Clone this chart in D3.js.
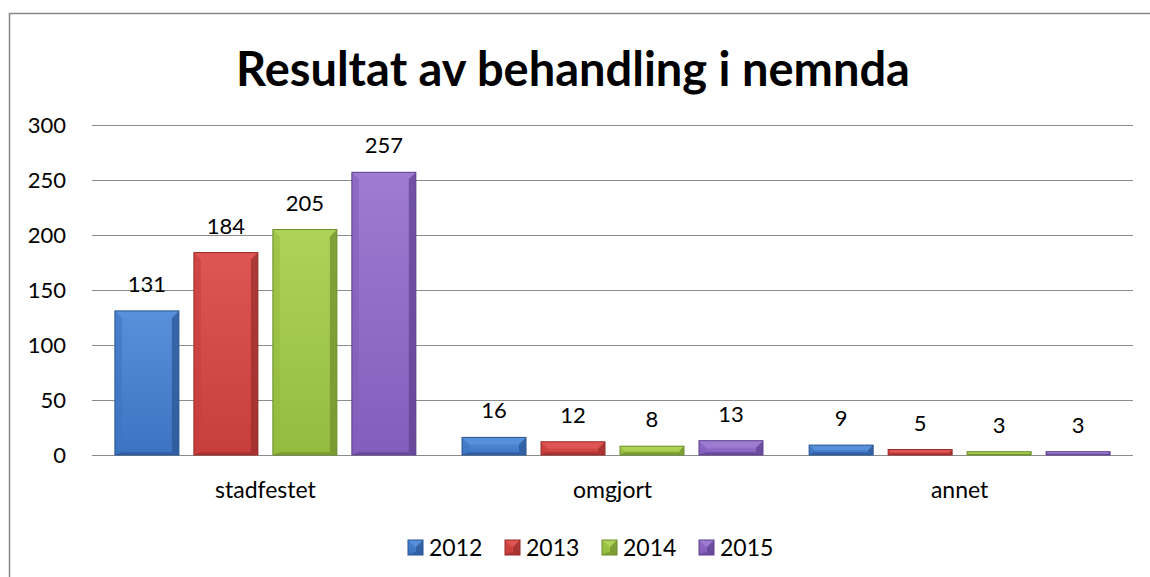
<!DOCTYPE html>
<html>
<head>
<meta charset="utf-8">
<script src="https://cdn.jsdelivr.net/npm/d3@7"></script>
<style>
  body { margin: 0; background: #fff; }
  svg { display: block; font-family: Lato, "Open Sans", sans-serif; }
</style>
</head>
<body>
<svg id="chart" width="1150" height="577"></svg>
<script>
// data
const categories = ['stadfestet', 'omgjort', 'annet'];
const years = ['2012', '2013', '2014', '2015'];
const values2012 = [131, 16, 9];
const values2013 = [184, 12, 5];
const values2014 = [205, 8, 3];
const values2015 = [257, 13, 3];
const yTicks = [0, 50, 100, 150, 200, 250, 300];

const seriesValues = [values2012, values2013, values2014, values2015];
const colors = [
  { light: '#5890da', base: '#3c74c2', dark: '#2a5593' },
  { light: '#de5553', base: '#c83e3c', dark: '#972d2b' },
  { light: '#aed258', base: '#94bc40', dark: '#6d8d2b' },
  { light: '#9f7bd2', base: '#845dbb', dark: '#5d408e' }
];

const svg = d3.select('#chart');
const margin = { left: 92, right: 17, top: 125, bottom: 122 };
const W = 1150, H = 577;

// outer frame (only left/top visible in the picture)
svg.append('rect')
  .attr('x', 9.5).attr('y', 13.5)
  .attr('width', 1160).attr('height', 600)
  .attr('fill', 'none').attr('stroke', '#868686').attr('stroke-width', 1.5);

// title
svg.append('text')
  .attr('x', 573).attr('y', 86)
  .attr('text-anchor', 'middle')
  .attr('font-size', 47).attr('font-weight', 'bold')
  .attr('fill', '#000')
  .text('Resultat av behandling i nemnda');

const x0 = d3.scaleBand()
  .domain(categories)
  .range([margin.left, W - margin.right])
  .paddingInner(0.133).paddingOuter(0.066);

const x1 = d3.scaleBand()
  .domain(years)
  .range([0, x0.bandwidth()])
  .paddingInner(0.19);

const y = d3.scaleLinear()
  .domain([0, 300])
  .range([H - margin.bottom, margin.top]);

// gridlines
svg.append('g')
  .selectAll('line')
  .data(yTicks)
  .join('line')
  .attr('x1', margin.left).attr('x2', W - margin.right)
  .attr('y1', d => Math.round(y(d)) + 0.5).attr('y2', d => Math.round(y(d)) + 0.5)
  .attr('stroke', '#8c8c8c').attr('stroke-width', 1.2);

// y axis labels
const yAxis = d3.axisLeft(y).tickValues(yTicks).tickSize(0).tickPadding(0);
svg.append('g')
  .attr('transform', `translate(66,0)`)
  .call(yAxis)
  .call(g => g.select('.domain').remove())
  .selectAll('text')
  .attr('font-family', 'Lato, sans-serif')
  .attr('font-size', 22)
  .attr('fill', '#000');

// category labels
const xAxis = d3.axisBottom(x0).tickSize(0).tickPadding(0);
svg.append('g')
  .attr('transform', `translate(0,${y(0) + 27})`)
  .call(xAxis)
  .call(g => g.select('.domain').remove())
  .selectAll('text')
  .attr('font-family', 'Lato, sans-serif')
  .attr('font-size', 23)
  .attr('fill', '#000');

// gradients
const defs = svg.append('defs');
colors.forEach((c, i) => {
  const g = defs.append('linearGradient')
    .attr('id', 'grad' + i).attr('x1', 0).attr('y1', 0).attr('x2', 0).attr('y2', 1);
  g.append('stop').attr('offset', '0%').attr('stop-color', c.light);
  g.append('stop').attr('offset', '100%').attr('stop-color', c.base);
});

// draws a bevelled box
function bevelBox(g, bx, by, bw, bh, c, i) {
  const b = Math.min(7, bh / 2, bw / 2);
  const bb = Math.min(3, bh / 3);
  g.append('rect')
    .attr('x', bx).attr('y', by).attr('width', bw).attr('height', bh)
    .attr('fill', `url(#grad${i})`);
  // top facet
  g.append('path')
    .attr('d', `M${bx},${by}L${bx + bw},${by}L${bx + bw - b},${by + b}L${bx + b},${by + b}Z`)
    .attr('fill', c.light).attr('opacity', 0.9);
  // left facet
  g.append('path')
    .attr('d', `M${bx},${by}L${bx + b},${by + b}L${bx + b},${by + bh - bb}L${bx},${by + bh}Z`)
    .attr('fill', c.base).attr('opacity', 0.6);
  // right facet
  g.append('path')
    .attr('d', `M${bx + bw},${by}L${bx + bw - b},${by + b}L${bx + bw - b},${by + bh - bb}L${bx + bw},${by + bh}Z`)
    .attr('fill', c.dark).attr('opacity', 0.7);
  // bottom facet
  g.append('path')
    .attr('d', `M${bx},${by + bh}L${bx + b},${by + bh - bb}L${bx + bw - b},${by + bh - bb}L${bx + bw},${by + bh}Z`)
    .attr('fill', c.dark).attr('opacity', 0.6);
  g.append('rect')
    .attr('x', bx).attr('y', by).attr('width', bw).attr('height', bh)
    .attr('fill', 'none').attr('stroke', c.dark).attr('stroke-width', 1);
}

// bars
const bars = svg.append('g');
seriesValues.forEach((vals, si) => {
  vals.forEach((v, ci) => {
    const bx = x0(categories[ci]) + x1(years[si]);
    const bw = x1.bandwidth();
    const top = y(v);
    const bh = Math.max(2, y(0) - top);
    bevelBox(bars.append('g'), bx, y(0) - bh, bw, bh, colors[si], si);
    bars.append('text')
      .attr('x', bx + bw / 2).attr('y', top - 19)
      .attr('text-anchor', 'middle')
      .attr('font-size', 22).attr('fill', '#000')
      .text(v);
  });
});

// legend
const legend = svg.append('g').attr('transform', 'translate(408,540)');
years.forEach((yr, i) => {
  const g = legend.append('g').attr('transform', `translate(${i * 97},0)`);
  bevelBox(g, 0, 0, 15, 15, colors[i], i);
  g.append('text')
    .attr('x', 21).attr('y', 16)
    .attr('font-size', 23).attr('fill', '#000')
    .text(yr);
});
</script>
</body>
</html>
